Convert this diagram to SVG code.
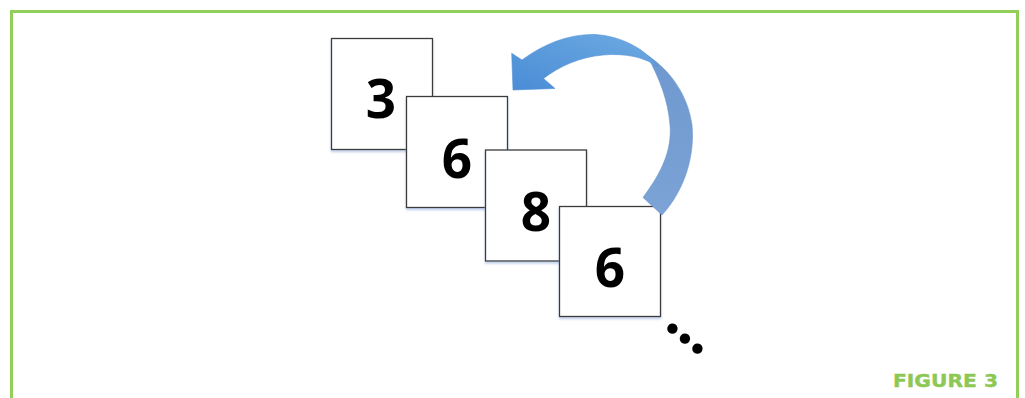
<svg xmlns="http://www.w3.org/2000/svg" width="1025" height="398" viewBox="0 0 1025 398">
  <style>
    .box { fill: #ffffff; stroke: #3a3a3a; stroke-width: 1.3; filter: url(#sh); }
    .num { font-family: "Open Sans", "Noto Sans", sans-serif; font-weight: 700; font-size: 53px; fill: #000; text-anchor: middle; }
    .cap { font-family: "DejaVu Sans", sans-serif; font-weight: 700; font-size: 18px; fill: #8DC855; stroke: #8DC855; stroke-width: 0.4; }
  </style>
  <defs>
    <filter id="sh" x="-10%" y="-10%" width="120%" height="125%">
      <feDropShadow dx="0" dy="2" stdDeviation="1.2" flood-color="#8fa9d6" flood-opacity="0.55"/>
    </filter>
    <linearGradient id="gFront" x1="0" y1="1" x2="1" y2="0">
      <stop offset="0" stop-color="#4a8dd6"/>
      <stop offset="1" stop-color="#6eaae2"/>
    </linearGradient>
    <linearGradient id="gBack" x1="0" y1="0" x2="0" y2="1">
      <stop offset="0" stop-color="#6d98cf"/>
      <stop offset="1" stop-color="#7da3d6"/>
    </linearGradient>
  </defs>

  <rect x="11.5" y="11.5" width="1006" height="400" fill="none" stroke="#92CF5A" stroke-width="3"/>

  <g id="node-3">
    <rect class="box" x="331.5" y="38.5" width="101" height="111"/>
    <text class="num" x="381" y="118">3</text>
  </g>
  <g id="node-6a">
    <rect class="box" x="406.5" y="96.5" width="101" height="111"/>
    <text class="num" x="457" y="178">6</text>
  </g>
  <g id="node-8">
    <rect class="box" x="485.5" y="150" width="101" height="111"/>
    <text class="num" x="536" y="230.5">8</text>
  </g>
  <g id="node-6b">
    <rect class="box" x="559.5" y="206.5" width="101" height="110"/>
    <text class="num" x="610" y="286.5">6</text>
  </g>

  <g id="connectors">
    <path d="M647,55 C670,70 688,95 692,125 C695,155 685,190 662,215 L643,197.5 C662,172 672,150 670,125 C668,100 660,80 647,55 Z" fill="url(#gBack)" stroke="#6b95cd" stroke-width="0.6"/>
    <path d="M513,90 L555,88.5 L543.5,78.5 C560,66 580,57 603,55 C625,53 645,57 658,67 C645,48 620,36 595,34.5 C570,34 545,43 522,60 L511.7,53.3 Z" fill="url(#gFront)" stroke="#4f8fd6" stroke-width="0.6"/>
  </g>

  <text transform="translate(685,338.5) rotate(38.7)" x="0" y="4.5" font-family="'Liberation Serif', 'Times New Roman', serif" font-weight="700" font-size="64" text-anchor="middle" fill="#000">...</text>

  <text class="cap" x="893" y="386.5" textLength="105" lengthAdjust="spacingAndGlyphs">FIGURE 3</text>
</svg>
